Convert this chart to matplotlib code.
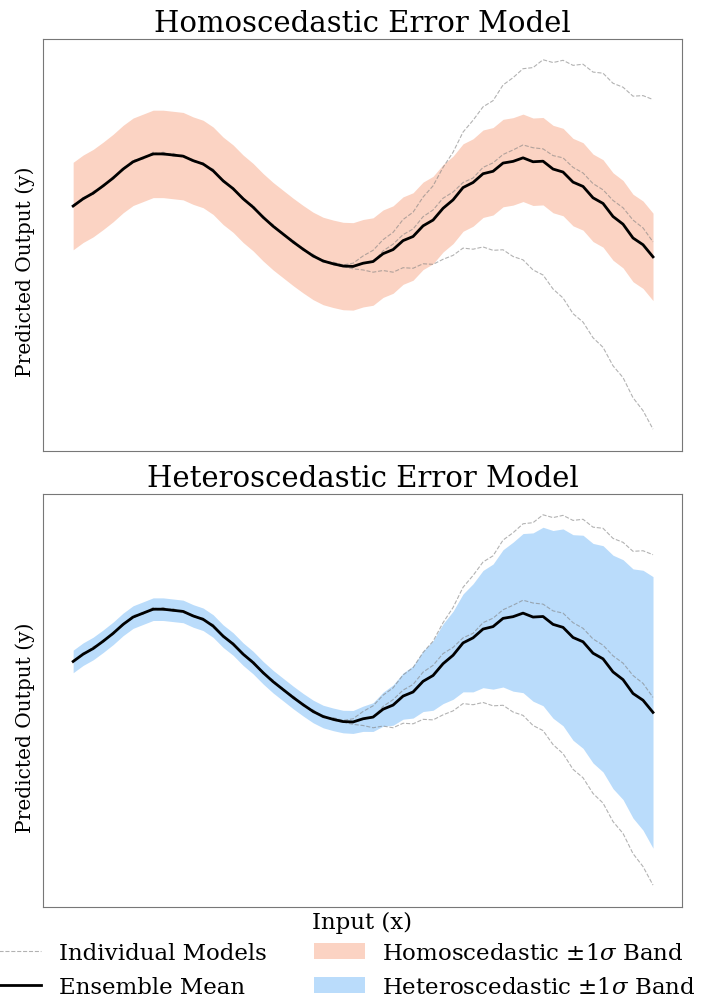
import numpy as np
import matplotlib
matplotlib.use("Agg")
import matplotlib.pyplot as plt
from matplotlib.lines import Line2D
from matplotlib.patches import Patch

# input grid and the three ensemble members
x = np.linspace(0, 10, 59)

model_upper = [0.09, 0.18, 0.33, 0.41, 0.59, 0.71, 0.89, 0.91, 1.03, 0.98, 1.01, 0.94, 0.90, 0.80,
               0.73, 0.50, 0.40, 0.18, 0.08, -0.15, -0.26, -0.45, -0.54, -0.72, -0.79, -0.93, -0.93, -0.98,
               -0.95, -0.82, -0.72, -0.53, -0.40, -0.17, -0.04, 0.23, 0.43, 0.76, 1.03, 1.39, 1.60, 1.84,
               1.95, 2.23, 2.36, 2.52, 2.54, 2.68, 2.63, 2.67, 2.58, 2.60, 2.46, 2.44, 2.26, 2.19, 2.03,
               2.04, 1.97]
model_middle = [0.06, 0.22, 0.28, 0.45, 0.55, 0.75, 0.84, 0.95, 0.98, 1.03, 0.96, 0.98, 0.86, 0.84,
                0.68, 0.54, 0.36, 0.22, 0.03, -0.11, -0.31, -0.41, -0.59, -0.68, -0.84, -0.89, -0.98, -1.01,
                -1.02, -0.96, -0.93, -0.73, -0.61, -0.44, -0.34, -0.12, 0.00, 0.21, 0.32, 0.49, 0.57, 0.76,
                0.84, 0.99, 1.07, 1.16, 1.11, 1.09, 0.97, 0.93, 0.76, 0.66, 0.47, 0.36, 0.17, 0.04, -0.18,
                -0.32, -0.57]
model_lower = [0.06, 0.20, 0.29, 0.43, 0.57, 0.73, 0.85, 0.93, 0.99, 0.99, 0.97, 0.96, 0.88, 0.82,
               0.69, 0.52, 0.38, 0.20, 0.04, -0.13, -0.30, -0.43, -0.58, -0.70, -0.83, -0.91, -0.97, -1.01,
               -1.05, -1.07, -1.11, -1.08, -1.11, -1.03, -1.04, -0.96, -0.97, -0.88, -0.81, -0.68, -0.70,
               -0.66, -0.72, -0.71, -0.83, -0.89, -1.07, -1.16, -1.41, -1.57, -1.85, -2.00, -2.28, -2.45,
               -2.78, -2.99, -3.35, -3.58, -3.91]

homo_sigma = 0.78
noise_sigma = 0.2

titles = ["Homoscedastic Error Model", "Heteroscedastic Error Model"]
band_colors = ["#fbd3c3", "#badcfb"]

models = np.array([model_upper, model_middle, model_lower])
mean = models.mean(axis=0)
hetero_sigma = np.sqrt(models.var(axis=0) + noise_sigma ** 2)
sigmas = [np.full_like(mean, homo_sigma), hetero_sigma]

plt.rcParams["font.family"] = "DejaVu Serif"
plt.rcParams["mathtext.fontset"] = "dejavuserif"

fig = plt.figure(figsize=(7.18, 10.04), dpi=100)
W, H = 718, 1004
boxes = [(43, 40, 682, 452), (43, 495, 682, 908)]

for i, (l, t, r, b) in enumerate(boxes):
    ax = fig.add_axes([l / W, 1 - b / H, (r - l) / W, (b - t) / H])
    ax.fill_between(x, mean - sigmas[i], mean + sigmas[i], color=band_colors[i], lw=0, zorder=1)
    for m in models:
        ax.plot(x, m, color="gray", ls="--", lw=0.8, alpha=0.6, zorder=2)
    ax.plot(x, mean, color="black", lw=2, zorder=3)
    ax.set_xlim(-0.52, 10.5)
    ax.set_ylim(-4.30, 3.05)
    ax.set_xticks([])
    ax.set_yticks([])
    for s in ax.spines.values():
        s.set_color("#777777")
    ax.set_title(titles[i], fontsize=21, pad=6)
    ax.set_ylabel("Predicted Output (y)", fontsize=14.5)
    ax.yaxis.set_label_coords(-0.013, 0.437)
    if i == 1:
        ax.set_xlabel("Input (x)", fontsize=16.5, labelpad=3)

handles = [
    Line2D([], [], color="gray", ls="--", lw=0.8, alpha=0.6),
    Line2D([], [], color="black", lw=2),
    Patch(facecolor=band_colors[0]),
    Patch(facecolor=band_colors[1]),
]
labels = ["Individual Models", "Ensemble Mean",
          r"Homoscedastic $\pm1\sigma$ Band", r"Heteroscedastic $\pm1\sigma$ Band"]
fig.legend(handles, labels, ncol=2, loc="upper center", bbox_to_anchor=(0.478, 0.081),
           frameon=False, fontsize=16.5, handlelength=2.2, handletextpad=0.75,
           columnspacing=2.1, labelspacing=0.5)

fig.savefig("out.png", dpi=100)
